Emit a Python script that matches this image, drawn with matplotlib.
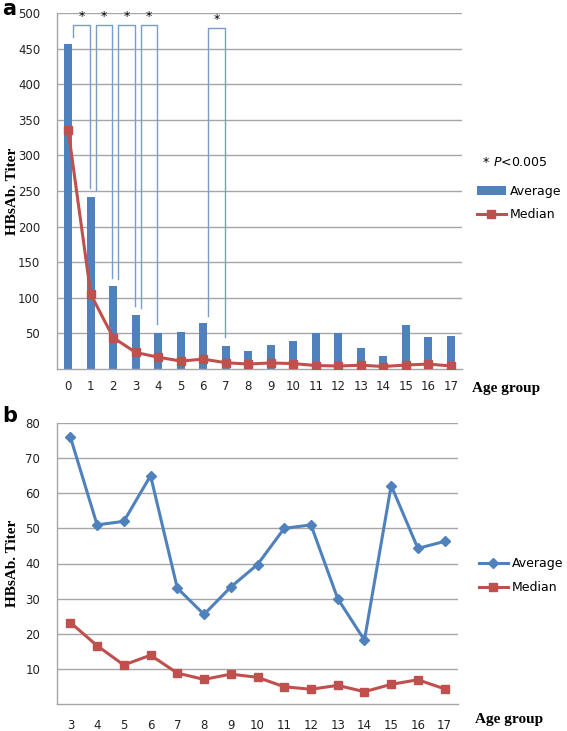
import matplotlib
matplotlib.use("Agg")
import matplotlib.pyplot as plt
import numpy as np

# Data
ages = list(range(18))
average = [456, 242, 116, 76, 51, 52, 65, 33, 25.5, 33.3, 39.7, 50, 51, 30, 18.2, 62.2, 44.3, 46.3]
median = [335, 105, 44, 23.2, 16.6, 11.1, 13.9, 8.8, 7.0, 8.5, 7.6, 4.9, 4.2, 5.3, 3.5, 5.6, 6.9, 4.3]
sig_pairs = [(0, 1), (1, 2), (2, 3), (3, 4), (6, 7)]
sig_top = [483, 483, 483, 483, 479]
b_start = 3  # panel b starts at age group 3

BLUE = "#4F81BD"
RED = "#C0504D"
GRID = "#A6A6A6"
BRACKET = "#7A9CCB"
SERIF = ["Liberation Serif", "DejaVu Serif"]

fig = plt.figure(figsize=(5.67, 7.31), dpi=100)
W, H = 567, 731


def px_axes(l, t, r, b):
    return fig.add_axes([l / W, 1 - b / H, (r - l) / W, (b - t) / H])


def style(ax):
    for s in ["top", "right"]:
        ax.spines[s].set_visible(False)
    for s in ["left", "bottom"]:
        ax.spines[s].set_color(GRID)
        ax.spines[s].set_linewidth(1.0)
    ax.yaxis.grid(True, color=GRID, linewidth=1.0)
    ax.set_axisbelow(True)
    ax.tick_params(length=0, labelsize=8.5, colors="#222222")
    ax.tick_params(axis="y", pad=12)
    ax.tick_params(axis="x", pad=8)


# Panel a
ax1 = px_axes(57, 13, 462, 369)
style(ax1)
x = np.arange(len(ages))
bars = ax1.bar(x, average, width=0.37, color=BLUE, label="Average", zorder=2)
line, = ax1.plot(x, median, color=RED, lw=2.2, marker="s", ms=5.5, label="Median", zorder=3)
ax1.set_xlim(-0.5, len(ages) - 0.5)
ax1.set_ylim(0, 500)
ax1.set_yticks(range(50, 501, 50))
ax1.set_xticks(x)
ax1.set_xticklabels([str(a) for a in ages])

for (i, j), top in zip(sig_pairs, sig_top):
    xl, xr = i + 0.22, j - 0.05
    ax1.plot([xl, xl, xr, xr], [average[i] + 10, top, top, average[j] + 12],
             color=BRACKET, lw=1.0, zorder=4, clip_on=False)
    ax1.text((xl + xr) / 2, top + 3, "*", ha="center", va="bottom", fontsize=9)

ax1.set_ylabel("HBsAb. Titer", fontfamily=SERIF, fontweight="bold", fontsize=11)
ax1.yaxis.set_label_coords(-0.095, 0.5)
fig.text(472 / W, 1 - 388 / H, "Age group", fontfamily=SERIF, fontweight="bold",
         fontsize=11, va="center", ha="left")
fig.text(2 / W, 1 - 9 / H, "a", fontsize=15, fontweight="bold", va="center", ha="left")

fig.text(483 / W, 1 - 162 / H, "* ", fontsize=9, va="center", ha="left")
fig.text(493 / W, 1 - 162 / H, "$P$<0.005", fontsize=9, va="center", ha="left")
ax1.legend([bars, line], ["Average", "Median"], loc="upper left",
           bbox_to_anchor=(472 / W, 1 - 180 / H), bbox_transform=fig.transFigure,
           frameon=False, fontsize=9, handlelength=2.3, handletextpad=0.3, labelspacing=0.8,
           borderaxespad=0)

# Panel b
ax2 = px_axes(57, 423, 458, 704)
style(ax2)
xb = np.arange(len(ages) - b_start)
ax2.plot(xb, average[b_start:], color=BLUE, lw=2.2, marker="D", ms=5.5, label="Average", zorder=3)
ax2.plot(xb, median[b_start:], color=RED, lw=2.2, marker="s", ms=6, label="Median", zorder=3)
ax2.set_xlim(-0.5, len(xb) - 0.5)
ax2.set_ylim(0, 80)
ax2.set_yticks(range(10, 81, 10))
ax2.set_xticks(xb)
ax2.set_xticklabels([str(a) for a in ages[b_start:]])
ax2.tick_params(axis="x", pad=11)

ax2.set_ylabel("HBsAb. Titer", fontfamily=SERIF, fontweight="bold", fontsize=11)
ax2.yaxis.set_label_coords(-0.095, 0.5)
fig.text(475 / W, 1 - 720 / H, "Age group", fontfamily=SERIF, fontweight="bold",
         fontsize=11, va="center", ha="left")
fig.text(2 / W, 1 - 416 / H, "b", fontsize=15, fontweight="bold", va="center", ha="left")
ax2.legend(loc="upper left", bbox_to_anchor=(474 / W, 1 - 552 / H), bbox_transform=fig.transFigure,
           frameon=False, fontsize=9, handlelength=2.3, handletextpad=0.3, labelspacing=0.9,
           borderaxespad=0)

fig.savefig("out.png", dpi=100)
